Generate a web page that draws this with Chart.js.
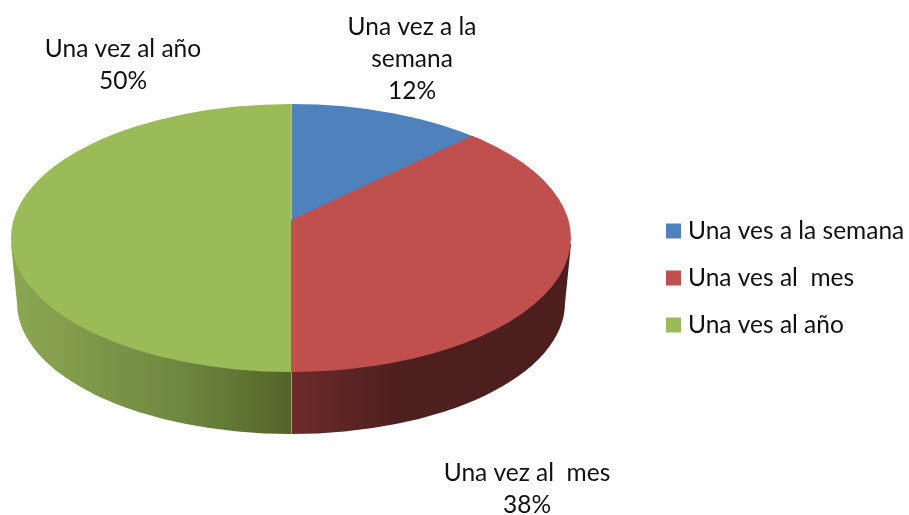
<!DOCTYPE html>
<html><head><meta charset="utf-8">
<script src="https://cdn.jsdelivr.net/npm/chart.js@4"></script>
<style>html,body{margin:0;padding:0;background:#fff}#w{width:909px;height:515px}</style>
</head><body><div id="w"><canvas id="c" width="909" height="515"></canvas></div>
<script>
const legendLabels = ['Una ves a la semana', 'Una ves al  mes', 'Una ves al año'];
const values = [12, 38, 50];
const colors = ['#4F81BD', '#C0504D', '#9BBB59'];
const sliceLabels = [['Una vez a la', 'semana'], ['Una vez al  mes'], ['Una vez al año']];
const labelCenters = [[412, 27], [527, 473], [123, 49]];
const wallShades = [[], [[0, '#6E2A2A'], [0.4, '#4D1F1E'], [1, '#4C1E1D']], [[0, '#8CA752'], [0.6, '#6F8840'], [1, '#536429']]];

const CX = 291, CY = 238, RX = 280, RY = 134, TIP_Y = 220;
const BASE = {cy: 303, rx: 274, ry: 131};
const K = 0.077, A = 133.2, B = 279.2, RIM_Y = 227.7;
const FONT = '24.5px Lato';

function project(a) {
  const u = Math.cos(a), v = -Math.sin(a), d = 1 + K * v;
  return [CX + B * u / d, RIM_Y - A * v / d];
}
const tilt = {
  id: 'tilt',
  afterLayout(chart) {
    chart.legend.left = 648.75;
  },
  beforeDatasetsDraw(chart) {
    const ctx = chart.ctx, arcs = chart.getDatasetMeta(0).data;
    arcs.forEach((el, i) => {
      const lo = Math.max(el.startAngle, 0), hi = Math.min(el.endAngle, Math.PI);
      if (hi <= lo) return;
      const x0 = CX + RX * Math.cos(hi), x1 = CX + RX * Math.cos(lo);
      const g = ctx.createLinearGradient(x0, 0, x1, 0);
      wallShades[i].forEach(s => g.addColorStop(s[0], s[1]));
      ctx.save();
      ctx.beginPath();
      ctx.rect(x0, 0, x1 - x0, 515);
      ctx.clip();
      ctx.beginPath();
      ctx.moveTo(CX - RX, CY + 6);
      ctx.lineTo(CX - BASE.rx, BASE.cy);
      ctx.ellipse(CX, BASE.cy, BASE.rx, BASE.ry, 0, Math.PI, 0, true);
      ctx.lineTo(CX + RX, CY + 6);
      ctx.closePath();
      ctx.fillStyle = g;
      ctx.fill();
      ctx.restore();
    });
    const el = arcs[0], r = el.outerRadius;
    ctx.save();
    ctx.translate(CX, CY);
    ctx.scale(RX / r, RY / r);
    ctx.translate(-el.x, -el.y);
  },
  afterDatasetsDraw(chart) {
    const ctx = chart.ctx, arcs = chart.getDatasetMeta(0).data;
    ctx.restore();
    arcs.forEach((el, i) => {
      const a = el.endAngle;
      if (Math.abs(Math.cos(a)) < 1e-6) return;
      const p = project(a), q = a + 0.02;
      ctx.beginPath();
      ctx.moveTo(CX, TIP_Y);
      ctx.lineTo(p[0], p[1]);
      ctx.lineTo(CX + RX * Math.cos(a), CY + RY * Math.sin(a));
      ctx.lineTo(CX + 0.99 * RX * Math.cos(q), CY + 0.99 * RY * Math.sin(q));
      ctx.lineTo(CX, CY + 4);
      ctx.closePath();
      ctx.fillStyle = colors[(i + 1) % colors.length];
      ctx.fill();
    });
    ctx.strokeStyle = 'rgba(235,235,225,0.55)';
    ctx.lineWidth = 1;
    ctx.beginPath();
    ctx.moveTo(CX + 0.5, CY - RY);
    ctx.lineTo(CX + 0.5, TIP_Y);
    ctx.moveTo(CX + 0.5, CY + RY);
    ctx.lineTo(CX + 0.5, BASE.cy + BASE.ry);
    ctx.stroke();
    ctx.fillStyle = '#111111';
    ctx.font = FONT;
    ctx.textAlign = 'center';
    ctx.textBaseline = 'middle';
    values.forEach((v, i) => {
      const lines = sliceLabels[i].concat(v + '%');
      lines.forEach((t, j) => ctx.fillText(t, labelCenters[i][0], labelCenters[i][1] + j * 32));
    });
  }
};
new Chart(document.getElementById('c'), {
  type: 'pie',
  data: {labels: legendLabels, datasets: [{data: values, backgroundColor: colors, borderWidth: 0}]},
  plugins: [tilt],
  options: {
    responsive: false,
    animation: false,
    layout: {padding: {top: 41}},
    plugins: {
      tooltip: {enabled: false},
      legend: {
        position: 'right',
        labels: {usePointStyle: true, pointStyle: 'rect', boxWidth: 4.5, boxHeight: 15, padding: 22.5, color: '#111111', font: {family: 'Lato', size: 24.5}}
      }
    }
  }
});
</script></body></html>
